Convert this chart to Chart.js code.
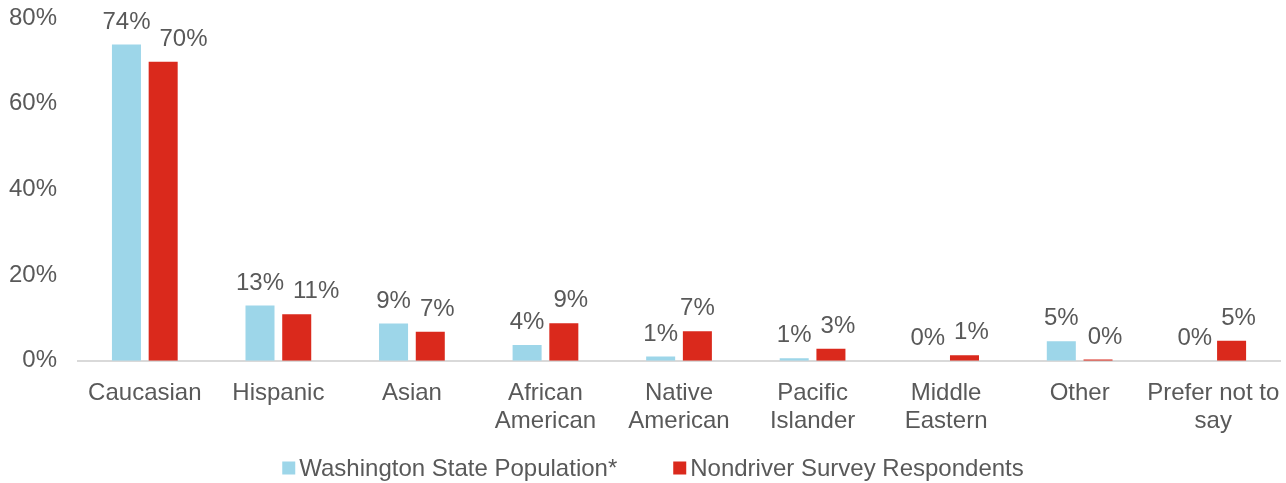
<meta charset="UTF-8">
<style>
    body { margin: 0; }
</style>

<div style="width:1286px;height:483px">
    <canvas id="myChart"></canvas>
</div>

<script src="https://cdn.jsdelivr.net/npm/chart.js@4/dist/chart.umd.min.js"></script>

<script>
    // categories and the two series (percent)
    var categories = [
        'Caucasian', 'Hispanic', 'Asian', ['African', 'American'], ['Native', 'American'],
        ['Pacific', 'Islander'], ['Middle', 'Eastern'], 'Other', ['Prefer not to', 'say']
    ];
    var seriesNames = ['Washington State Population*', 'Nondriver Survey Respondents'];
    var waPopulation = [73.8, 12.9, 8.7, 3.7, 1.0, 0.6, 0, 4.6, 0];
    var nondrivers = [69.8, 10.9, 6.8, 8.8, 6.9, 2.8, 1.3, 0.3, 4.7];
    var yTicks = [0, 20, 40, 60, 80];

    var colors = ['#9dd6e9', '#da291c'];
    var textColor = '#595959';
    var fontFamily = '"Liberation Sans", Arial, sans-serif';
    var fontSize = 24;

    // value labels above each bar, nudging the second label right when the pair would collide
    var barLabels = {
        id: 'barLabels',
        afterDatasetsDraw: function (chart) {
            var ctx = chart.ctx;
            ctx.save();
            ctx.font = fontSize + 'px ' + fontFamily;
            ctx.fillStyle = textColor;
            ctx.textAlign = 'center';
            ctx.textBaseline = 'alphabetic';
            var m0 = chart.getDatasetMeta(0), m1 = chart.getDatasetMeta(1);
            var d0 = chart.data.datasets[0].data, d1 = chart.data.datasets[1].data;
            for (var i = 0; i < categories.length; i++) {
                var t0 = Math.round(d0[i]) + '%', t1 = Math.round(d1[i]) + '%';
                var b0 = m0.data[i], b1 = m1.data[i];
                var w0 = ctx.measureText(t0).width, w1 = ctx.measureText(t1).width;
                var x0 = b0.x, x1 = b1.x;
                var y0 = b0.y - 16, y1 = b1.y - 16;
                var gap = (x1 - w1 / 2) - (x0 + w0 / 2);
                if (Math.abs(y0 - y1) < 22 && gap < 6) {
                    x1 = x0 + w0 / 2 + 9 + w1 / 2;
                }
                ctx.fillText(t0, x0, y0);
                ctx.fillText(t1, x1, y1);
            }
            ctx.restore();
        }
    };

    // legend row under the axis: small square swatch, text right next to it
    var legendRow = {
        id: 'legendRow',
        afterDraw: function (chart) {
            var ctx = chart.ctx;
            ctx.save();
            ctx.font = fontSize + 'px ' + fontFamily;
            ctx.textBaseline = 'middle';
            ctx.textAlign = 'left';
            var box = 13, boxGap = 4, itemGap = 56;
            var widths = seriesNames.map(function (s) { return box + boxGap + ctx.measureText(s).width; });
            var total = widths[0] + widths[1] + itemGap;
            var x = chart.width / 2 + 10 - total / 2;
            var y = 468;
            seriesNames.forEach(function (name, i) {
                ctx.fillStyle = colors[i];
                ctx.fillRect(x, y - box / 2, box, box);
                ctx.fillStyle = textColor;
                ctx.fillText(name, x + box + boxGap, y + 1);
                x += widths[i] + itemGap;
            });
            ctx.restore();
        }
    };

    var ctx = document.getElementById('myChart').getContext('2d');
    var chart = new Chart(ctx, {
        type: 'bar',
        data: {
            labels: categories,
            datasets: [
                {
                    label: seriesNames[0],
                    backgroundColor: colors[0],
                    data: waPopulation
                },
                {
                    label: seriesNames[1],
                    backgroundColor: colors[1],
                    data: nondrivers
                }
            ]
        },
        plugins: [barLabels, legendRow],
        options: {
            responsive: true,
            maintainAspectRatio: false,
            animation: false,
            categoryPercentage: 0.55,
            barPercentage: 0.79,
            layout: { padding: { left: 9, right: 6, top: 0, bottom: 30 } },
            plugins: {
                tooltip: { enabled: false },
                legend: { display: false }
            },
            scales: {
                x: {
                    grid: { display: false, drawTicks: false },
                    border: { display: true, color: '#d9d9d9', width: 2 },
                    ticks: {
                        color: textColor,
                        font: { family: fontFamily, size: fontSize, lineHeight: 1.17 },
                        padding: 18,
                        maxRotation: 0,
                        autoSkip: false
                    },
                    afterFit: function (axis) {
                        axis.paddingLeft = 0;
                        axis.paddingRight = 0;
                    }
                },
                y: {
                    min: 0,
                    max: 80,
                    grid: { display: false, drawTicks: false },
                    border: { display: false },
                    afterBuildTicks: function (axis) {
                        axis.ticks = yTicks.map(function (v) { return { value: v }; });
                    },
                    // padding gets counted on both sides of the labels, keep it on one
                    afterFit: function (axis) {
                        axis.width -= axis.options.ticks.padding;
                        axis.paddingTop = 18;
                        axis.paddingBottom = 0;
                    },
                    ticks: {
                        color: textColor,
                        font: { family: fontFamily, size: fontSize },
                        padding: 21,
                        callback: function (v) { return v + '%'; }
                    }
                }
            }
        }
    });
</script>
